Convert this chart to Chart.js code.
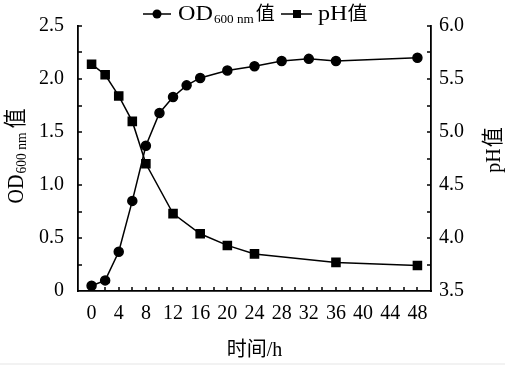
<!DOCTYPE html>
<html>
<head>
<meta charset="utf-8">
<script src="https://cdn.jsdelivr.net/npm/chart.js@4/dist/chart.umd.min.js"></script>
<style>
  html, body { margin: 0; padding: 0; background: #fff; }
  #wrap { width: 505px; height: 365px; }
</style>
</head>
<body>
<div id="wrap"><canvas id="myChart"></canvas></div>
<script>
// 数据
const hoursOD = [0, 2, 4, 6, 8, 10, 12, 14, 16, 20, 24, 28, 32, 36, 48];
const odValues = [0.05, 0.10, 0.37, 0.85, 1.37, 1.68, 1.83, 1.94, 2.01, 2.08, 2.12, 2.17, 2.19, 2.17, 2.20];
const hoursPH = [0, 2, 4, 6, 8, 12, 16, 20, 24, 36, 48];
const phValues = [5.64, 5.54, 5.34, 5.10, 4.70, 4.23, 4.04, 3.93, 3.85, 3.77, 3.74];

const xTicks = [0, 4, 8, 12, 16, 20, 24, 28, 32, 36, 40, 44, 48];
const odTicks = [0, 0.5, 1.0, 1.5, 2.0, 2.5];
const phTicks = [3.5, 4.0, 4.5, 5.0, 5.5, 6.0];
const xTitle = '时间/h';

const SERIF = '"Liberation Serif", "Times New Roman", "Noto Sans CJK SC", serif';
const CJK = '"Noto Sans CJK SC", sans-serif';

// 依次绘制几段文字（下标等）
function drawParts(ctx, parts, x, y, align) {
  let total = 0;
  parts.forEach(p => {
    ctx.font = p.size + 'px ' + (p.cjk ? CJK : SERIF);
    p.w = ctx.measureText(p.t).width * (p.sx || 1) + (p.gap || 0);
    total += p.w;
  });
  let cx = align === 'center' ? x - total / 2 : x;
  parts.forEach(p => {
    ctx.save();
    ctx.font = p.size + 'px ' + (p.cjk ? CJK : SERIF);
    ctx.translate(cx + (p.gap || 0), y + (p.dy || 0));
    ctx.scale(p.sx || 1, 1);
    ctx.fillText(p.t, 0, 0);
    ctx.restore();
    cx += p.w;
  });
}

const decorPlugin = {
  id: 'decor',
  beforeDraw(chart) {
    const ctx = chart.ctx;
    ctx.save();
    ctx.fillStyle = '#f2f2f2';
    ctx.fillRect(0, 363, chart.width, 2);
    ctx.restore();
  },
  afterDraw(chart) {
    const ctx = chart.ctx;
    const a = chart.chartArea;
    const sx = chart.scales.x, sy = chart.scales.y, sy1 = chart.scales.y1;
    ctx.save();
    ctx.strokeStyle = '#000';
    ctx.fillStyle = '#000';
    ctx.lineWidth = 1.5;

    // 朝内的刻度
    ctx.beginPath();
    for (let h = 0; h <= 48; h += 2) {
      const px = Math.round(sx.getPixelForValue(h));
      ctx.moveTo(px, a.bottom);
      ctx.lineTo(px, a.bottom - 4);
    }
    for (let v = 0.25; v <= 2.5001; v += 0.25) {
      const py = Math.round(sy.getPixelForValue(v));
      ctx.moveTo(a.left, py);
      ctx.lineTo(a.left + 4, py);
    }
    for (let v = 3.75; v <= 6.0001; v += 0.25) {
      const py = Math.round(sy1.getPixelForValue(v));
      ctx.moveTo(a.right, py);
      ctx.lineTo(a.right - 4, py);
    }
    ctx.stroke();

    // 图例
    ctx.lineWidth = 1.5;
    ctx.beginPath();
    ctx.moveTo(143, 14); ctx.lineTo(171, 14);
    ctx.moveTo(281, 14); ctx.lineTo(312, 14);
    ctx.stroke();
    ctx.beginPath();
    ctx.arc(157, 14, 4.5, 0, Math.PI * 2);
    ctx.fill();
    ctx.fillRect(293, 10, 8, 8);

    ctx.textBaseline = 'alphabetic';
    drawParts(ctx, [
      { t: 'OD', size: 21, sx: 1.15 },
      { t: '600 nm', size: 12, sx: 1.1, dy: 3, gap: 1 },
      { t: '值', size: 19, cjk: true, gap: 2 }
    ], 178, 19.5, 'left');
    drawParts(ctx, [
      { t: 'pH', size: 21, sx: 1.15 },
      { t: '值', size: 19, cjk: true, sx: 1.05 }
    ], 318, 19.5, 'left');

    // 左侧纵轴标题
    ctx.save();
    ctx.translate(23, 156);
    ctx.scale(1.15, 1);
    ctx.rotate(-Math.PI / 2);
    drawParts(ctx, [
      { t: 'OD', size: 20 },
      { t: '600 nm', size: 13.5, dy: 3, gap: 1 },
      { t: '值', size: 20, cjk: true, gap: 4 }
    ], 0, 0, 'center');
    ctx.restore();

    // 右侧纵轴标题
    ctx.save();
    ctx.translate(500, 150);
    ctx.scale(1.1, 1);
    ctx.rotate(-Math.PI / 2);
    drawParts(ctx, [
      { t: 'pH', size: 20 },
      { t: '值', size: 20, cjk: true, gap: 1 }
    ], 0, 0, 'center');
    ctx.restore();

    ctx.restore();
  }
};

const ctx = document.getElementById('myChart').getContext('2d');
new Chart(ctx, {
  type: 'line',
  data: {
    datasets: [
      {
        label: 'OD600 nm值',
        data: hoursOD.map((h, i) => ({ x: h, y: odValues[i] })),
        yAxisID: 'y',
        borderColor: '#000',
        backgroundColor: '#000',
        borderWidth: 1.5,
        pointStyle: 'circle',
        pointRadius: 4.5,
        pointHoverRadius: 4.5,
        tension: 0
      },
      {
        label: 'pH值',
        data: hoursPH.map((h, i) => ({ x: h, y: phValues[i] })),
        yAxisID: 'y1',
        borderColor: '#000',
        backgroundColor: '#000',
        borderWidth: 1.5,
        pointStyle: 'rect',
        pointRadius: 5.7,
        pointHoverRadius: 5.7,
        tension: 0
      }
    ]
  },
  options: {
    responsive: true,
    maintainAspectRatio: false,
    animation: false,
    layout: { padding: { top: 14, left: 0, right: 0, bottom: 0 } },
    plugins: {
      legend: { display: false },
      tooltip: { enabled: false }
    },
    scales: {
      x: {
        type: 'linear',
        position: 'bottom',
        min: -2,
        max: 50,
        afterBuildTicks: s => { s.ticks = xTicks.map(v => ({ value: v })); },
        afterFit: s => { s.height = 74; },
        grid: { display: false, drawTicks: false },
        border: { display: true, color: '#000', width: 1.8 },
        ticks: {
          color: '#000',
          font: { family: SERIF, size: 20 },
          padding: 11,
          maxRotation: 0,
          autoSkip: false
        },
        title: {
          display: true,
          text: xTitle,
          color: '#000',
          font: { family: SERIF, size: 20 },
          padding: { top: 0, bottom: 2 }
        }
      },
      y: {
        position: 'left',
        min: 0,
        max: 2.5,
        afterBuildTicks: s => { s.ticks = odTicks.map(v => ({ value: v })); },
        afterFit: s => { s.width = 78; },
        grid: { display: false, drawTicks: false },
        border: { display: true, color: '#000', width: 1.8 },
        ticks: {
          color: '#000',
          font: { family: SERIF, size: 20 },
          padding: 14,
          callback: v => (v === 0 ? '0' : v.toFixed(1))
        }
      },
      y1: {
        position: 'right',
        min: 3.5,
        max: 6.0,
        afterBuildTicks: s => { s.ticks = phTicks.map(v => ({ value: v })); },
        afterFit: s => { s.width = 74; },
        grid: { display: false, drawTicks: false },
        border: { display: true, color: '#000', width: 1.8 },
        ticks: {
          color: '#000',
          font: { family: SERIF, size: 20 },
          padding: 8,
          callback: v => v.toFixed(1)
        }
      }
    }
  },
  plugins: [decorPlugin]
});
</script>
</body>
</html>
